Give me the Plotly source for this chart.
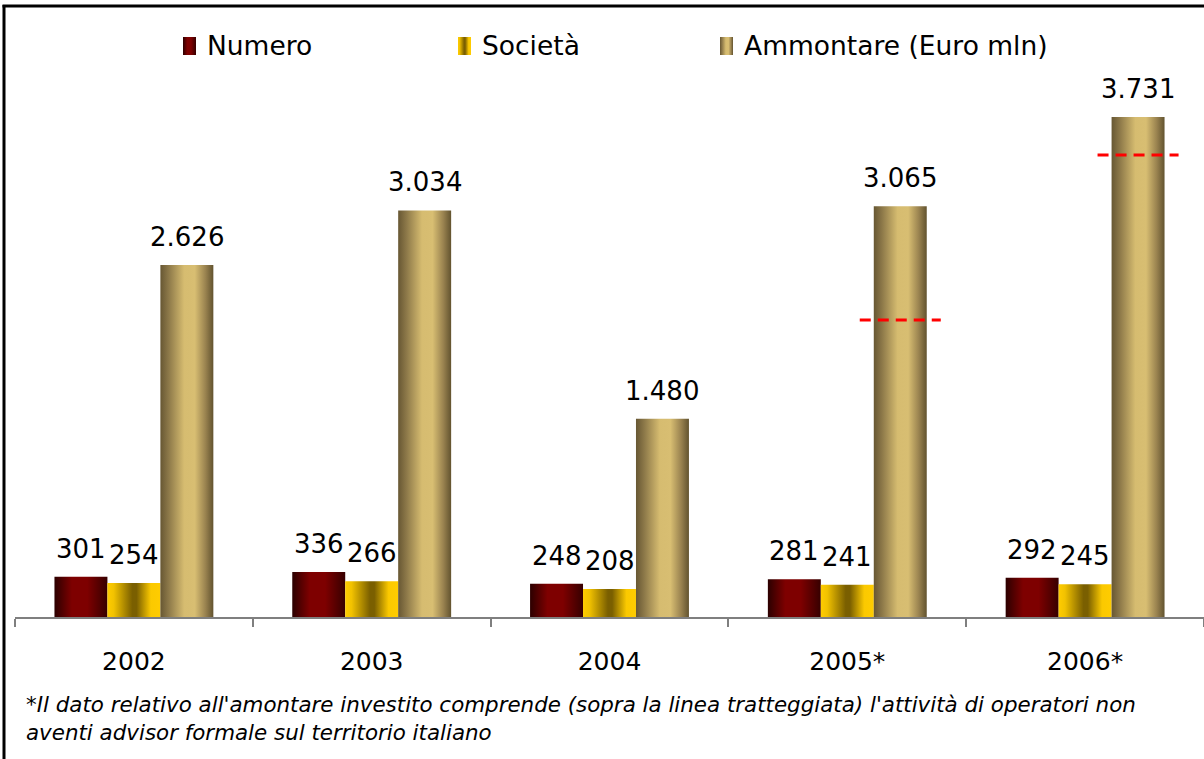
import plotly.graph_objects as go

# --- dati ---------------------------------------------------------------
anni = ["2002", "2003", "2004", "2005*", "2006*"]
numero = [301, 336, 248, 281, 292]
societa = [254, 266, 208, 241, 245]
ammontare = [2626, 3034, 1480, 3065, 3731]
# livello della linea tratteggiata: sopra c'è l'attività di operatori senza advisor in Italia
soglia_tratteggio = [None, None, None, 2216, 3447]
serie = ["Numero", "Società", "Ammontare (Euro mln)"]

nota = ("*Il dato relativo all'amontare investito comprende (sopra la linea tratteggiata) "
        "l'attività di operatori non<br>aventi advisor formale sul territorio italiano")

# --- stile --------------------------------------------------------------
W, H = 1204, 759
FONT = "DejaVu Sans"
BW = 0.2227          # larghezza di una barra in unità di categoria
EXT = 0.059          # sporgenza della linea tratteggiata oltre la barra

sfumature = {
    "Numero": [[0, "#2c0000"], [0.33, "#7e0000"], [0.62, "#7e0000"], [1, "#360000"]],
    "Società": [[0, "#ffcc00"], [0.12, "#f2c200"], [0.47, "#7a5f00"], [0.55, "#7a5f00"],
                [0.82, "#fbc900"], [1, "#ffcc00"]],
    "Ammontare (Euro mln)": [[0, "#675733"], [0.15, "#8b7748"], [0.45, "#d6bc70"],
                             [0.65, "#d8be72"], [0.85, "#9a8350"], [1, "#62532f"]],
}

fig = go.Figure()

# barre con riempimento sfumato orizzontale
for k, (nome, valori) in enumerate(zip(serie, [numero, societa, ammontare])):
    for i, v in enumerate(valori):
        xc = i + (k - 1) * BW
        x0, x1 = xc - BW / 2, xc + BW / 2
        fig.add_trace(go.Scatter(
            x=[x0, x0, x1, x1, x0], y=[0, v, v, 0, 0],
            fill="toself", mode="lines", line=dict(width=0),
            fillgradient=dict(type="horizontal", colorscale=sfumature[nome]),
            hoverinfo="skip", showlegend=False,
        ))
        fig.add_annotation(
            x=xc, y=v, text=f"{v:,}".replace(",", "."), showarrow=False,
            xref="x", yref="y", yanchor="bottom", yshift=11,
            font=dict(family=FONT, size=26, color="#000000"),
        )

# linee tratteggiate rosse sulle barre dell'ammontare
for i, s in enumerate(soglia_tratteggio):
    if s is None:
        continue
    xc = i + BW
    fig.add_trace(go.Scatter(
        x=[xc - BW / 2 - EXT, xc + BW / 2 + EXT], y=[s, s], mode="lines",
        line=dict(color="#ff0000", width=3, dash="11px,7px"),
        hoverinfo="skip", showlegend=False,
    ))

# legenda: campioni sfumati su un riferimento in pixel
LEG_X = [183, 458, 720]
LEG_Y0, LEG_Y1, LEG_W = 37, 55, 13
for nome, lx in zip(serie, LEG_X):
    fig.add_trace(go.Scatter(
        x=[lx, lx, lx + LEG_W, lx + LEG_W, lx], y=[LEG_Y1, LEG_Y0, LEG_Y0, LEG_Y1, LEG_Y1],
        fill="toself", mode="lines", line=dict(width=0),
        fillgradient=dict(type="horizontal", colorscale=sfumature[nome]),
        xaxis="x3", yaxis="y3", hoverinfo="skip", showlegend=False,
    ))
    fig.add_annotation(
        x=(lx + 22) / W, y=1 - 46 / H, xref="paper", yref="paper",
        text=nome, showarrow=False, xanchor="left", yanchor="middle",
        font=dict(family=FONT, size=26.5, color="#000000"),
    )

# nota a piè di grafico
fig.add_annotation(
    x=24 / W, y=1 - 690 / H, xref="paper", yref="paper", text=nota,
    showarrow=False, xanchor="left", yanchor="top", align="left",
    font=dict(family="DejaVu Sans", size=21.4, color="#000000", style="italic"),
)

# cornice (lati sinistro e superiore)
fig.add_shape(type="line", xref="paper", yref="paper",
              x0=4 / W, x1=4 / W, y0=1 - 5 / H, y1=-0.02,
              line=dict(color="#000000", width=3))
fig.add_shape(type="line", xref="paper", yref="paper",
              x0=2.5 / W, x1=1.02, y0=1 - 6 / H, y1=1 - 6 / H,
              line=dict(color="#000000", width=3))

fig.update_layout(
    width=W, height=H,
    margin=dict(l=0, r=0, t=0, b=0, pad=0),
    paper_bgcolor="#ffffff", plot_bgcolor="rgba(0,0,0,0)",
    showlegend=False,
    xaxis=dict(
        domain=[15 / W, 1], range=[-0.5, 4.5],
        tickmode="array", tickvals=list(range(len(anni))), ticktext=anni,
        ticks="", ticklabelstandoff=21,
        tickfont=dict(family=FONT, size=25, color="#000000"),
        showline=True, linecolor="#7f7f7f", linewidth=1.5,
        showgrid=False, zeroline=False, fixedrange=True,
        minor=dict(tickvals=[i - 0.5 for i in range(len(anni) + 1)],
                   ticks="outside", ticklen=8, tickwidth=1.5,
                   tickcolor="#7f7f7f", showgrid=False),
    ),
    yaxis=dict(
        domain=[1 - 617 / H, 1 - 67 / H], range=[0, 4104],
        visible=False, showgrid=False, zeroline=False, fixedrange=True,
    ),
    xaxis3=dict(domain=[0, 1], range=[0, W], visible=False, anchor="y3", fixedrange=True),
    yaxis3=dict(domain=[0, 1], range=[H, 0], visible=False, anchor="x3", fixedrange=True),
)

fig.write_html("out.html")
